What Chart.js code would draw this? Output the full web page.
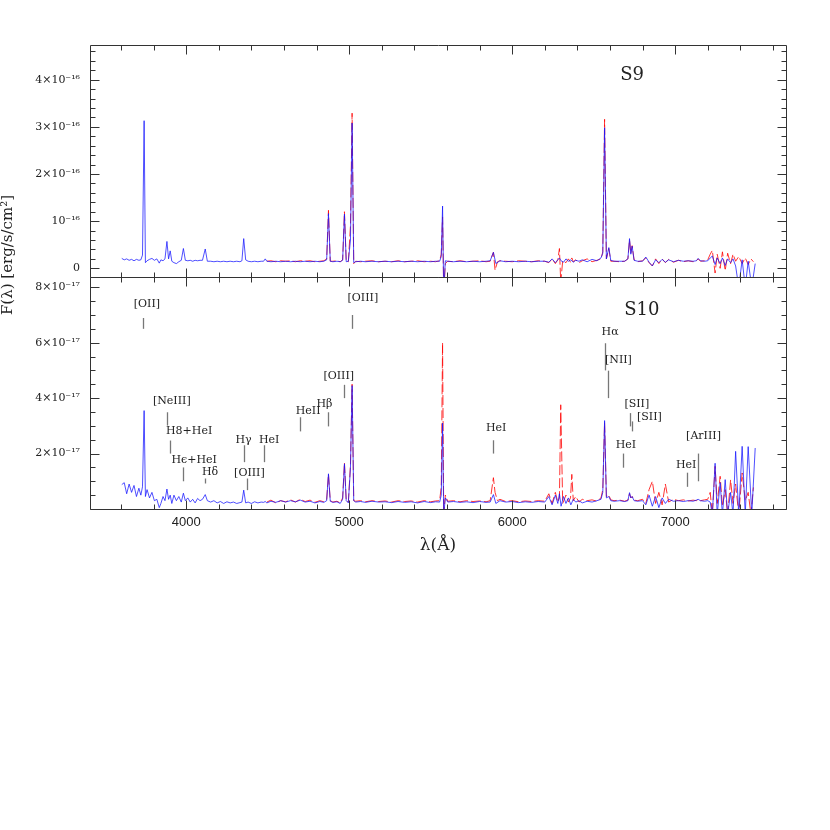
<!DOCTYPE html>
<html>
<head>
<meta charset="utf-8">
<script src="https://cdn.jsdelivr.net/npm/chart.js@4"></script>
<style>
  html, body { margin: 0; padding: 0; background: #fff; }
</style>
</head>
<body>
<canvas id="spec" width="830" height="830"></canvas>
<script>
// wavelength grid (Angstrom) of the blue spectra
const blueWave = [
  3605, 3620, 3635, 3650, 3665, 3680, 3695, 3710, 3722, 3732,
  3742, 3750, 3760, 3775, 3790, 3805, 3820, 3835, 3845, 3858,
  3870, 3882, 3892, 3902, 3912, 3925, 3940, 3955, 3970, 3983,
  3995, 4010, 4025, 4040, 4055, 4070, 4085, 4100, 4117, 4130,
  4150, 4170, 4190, 4210, 4230, 4250, 4270, 4290, 4310, 4330,
  4342, 4353, 4365, 4380, 4400, 4420, 4440, 4460, 4475, 4485,
  4495, 4520, 4550, 4580, 4610, 4640, 4670, 4700, 4730, 4760,
  4790, 4820, 4845, 4862, 4873, 4884, 4900, 4925, 4945, 4960,
  4971, 4982, 4995, 5008, 5018, 5028, 5040, 5070, 5100, 5140,
  5180, 5220, 5260, 5300, 5340, 5380, 5420, 5460, 5500, 5530,
  5555, 5565, 5573, 5580, 5590, 5605, 5640, 5680, 5720, 5760,
  5800, 5840, 5865, 5885, 5900, 5925, 5960, 6000, 6040, 6080,
  6120, 6160, 6200, 6225, 6245, 6265, 6280, 6290, 6300, 6315,
  6330, 6345, 6360, 6375, 6390, 6410, 6430, 6460, 6490, 6520,
  6545, 6556, 6567, 6578, 6593, 6605, 6625, 6660, 6690, 6710,
  6720, 6728, 6736, 6748, 6770, 6800, 6820, 6840, 6860, 6880,
  6900, 6920, 6940, 6960, 6990, 7020, 7050, 7080, 7110, 7130,
  7141, 7155, 7180, 7200, 7215, 7228, 7245, 7258, 7276, 7290,
  7307, 7322, 7340, 7355, 7371, 7390, 7411, 7430, 7448, 7470,
  7491
];

// S9, blue, units of 1e-16 erg/s/cm2
const s9Blue = [
  0.21, 0.18, 0.20, 0.17, 0.19, 0.16, 0.19, 0.17, 0.18, 0.28,
  3.13, 0.12, 0.16, 0.19, 0.21, 0.17, 0.20, 0.11, 0.18, 0.16,
  0.20, 0.57, 0.20, 0.37, 0.15, 0.12, 0.10, 0.14, 0.17, 0.42,
  0.17, 0.16, 0.17, 0.15, 0.17, 0.16, 0.17, 0.17, 0.41, 0.15,
  0.15, 0.14, 0.15, 0.14, 0.15, 0.14, 0.15, 0.14, 0.15, 0.14,
  0.16, 0.63, 0.18, 0.15, 0.14, 0.15, 0.14, 0.15, 0.15, 0.20,
  0.15, 0.14, 0.15, 0.14, 0.15, 0.14, 0.15, 0.14, 0.15, 0.14,
  0.15, 0.14, 0.15, 0.18, 1.16, 0.15, 0.14, 0.15, 0.14, 0.17,
  1.15, 0.14, 0.15, 0.60, 3.08, 0.12, 0.14, 0.15, 0.14, 0.15,
  0.14, 0.15, 0.14, 0.15, 0.14, 0.15, 0.14, 0.15, 0.14, 0.15,
  0.15, 0.25, 1.32, -0.5, 0.16, 0.15, 0.14, 0.15, 0.14, 0.15,
  0.14, 0.15, 0.16, 0.34, 0.10, 0.16, 0.14, 0.15, 0.14, 0.15,
  0.14, 0.15, 0.15, 0.13, 0.20, 0.12, 0.18, 0.22, 0.16, 0.13,
  0.20, 0.15, 0.18, 0.13, 0.17, 0.15, 0.18, 0.14, 0.19, 0.16,
  0.22, 0.32, 2.98, 0.20, 0.44, 0.17, 0.15, 0.15, 0.15, 0.20,
  0.63, 0.30, 0.47, 0.17, 0.15, 0.15, 0.24, 0.13, 0.05, 0.18,
  0.12, 0.19, 0.13, 0.18, 0.14, 0.17, 0.15, 0.16, 0.15, 0.16,
  0.21, 0.16, 0.15, 0.16, 0.22, 0.26, 0.08, 0.22, 0.10, 0.22,
  0.06, 0.20, 0.12, 0.20, 0.05, -0.4, 0.18, -0.4, 0.15, -0.4,
  0.10
];

// S10, blue, units of 1e-17 erg/s/cm2
const s10Blue = [
  0.88, 0.95, 0.55, 0.90, 0.60, 0.85, 0.45, 0.75, 0.50, 0.80,
  3.55, 0.45, 0.70, 0.40, 0.60, 0.30, 0.35, 0.05, 0.20, 0.45,
  0.30, 0.72, 0.35, 0.50, 0.20, 0.50, 0.30, 0.45, 0.25, 0.57,
  0.30, 0.40, 0.25, 0.35, 0.22, 0.38, 0.30, 0.35, 0.52, 0.30,
  0.25, 0.30, 0.22, 0.27, 0.20, 0.26, 0.22, 0.25, 0.20, 0.23,
  0.25, 0.68, 0.22, 0.25, 0.20, 0.26, 0.22, 0.25, 0.24, 0.27,
  0.22, 0.28, 0.24, 0.30, 0.25, 0.30, 0.26, 0.32, 0.25, 0.28,
  0.22, 0.27, 0.24, 0.30, 1.27, 0.28, 0.24, 0.26, 0.20, 0.35,
  1.63, 0.30, 0.22, 1.50, 4.45, 0.30, 0.25, 0.27, 0.24, 0.28,
  0.25, 0.26, 0.23, 0.27, 0.24, 0.26, 0.22, 0.27, 0.23, 0.26,
  0.25, 0.50, 3.10, -0.2, 0.40, 0.25, 0.27, 0.24, 0.26, 0.23,
  0.27, 0.24, 0.25, 0.52, 0.20, 0.30, 0.25, 0.27, 0.23, 0.26,
  0.24, 0.27, 0.25, 0.45, 0.15, 0.50, 0.20, 0.55, 0.10, 0.45,
  0.20, 0.40, 0.15, 0.35, 0.25, 0.30, 0.22, 0.28, 0.25, 0.30,
  0.35, 0.60, 3.19, 0.40, 0.45, 0.30, 0.28, 0.30, 0.27, 0.30,
  0.59, 0.40, 0.45, 0.30, 0.28, 0.30, 0.15, 0.50, 0.10, 0.45,
  0.05, 0.40, 0.20, 0.35, 0.28, 0.30, 0.27, 0.30, 0.28, 0.32,
  0.35, 0.30, 0.28, 0.30, 0.25, -0.2, 1.65, -0.2, 0.95, -0.2,
  1.06, -0.2, 0.60, -0.2, 2.08, -0.2, 2.26, -0.2, 2.25, -0.2,
  2.20
];

// wavelength grid of the red spectra
const redWave = [
  4495, 4520, 4550, 4580, 4610, 4640, 4670, 4700, 4730, 4760,
  4790, 4820, 4845, 4862, 4873, 4884, 4900, 4925, 4945, 4960,
  4971, 4982, 4995, 5008, 5018, 5028, 5040, 5070, 5100, 5140,
  5180, 5220, 5260, 5300, 5340, 5380, 5420, 5460, 5500, 5530,
  5555, 5565, 5573, 5580, 5590, 5605, 5640, 5680, 5720, 5760,
  5800, 5840, 5865, 5885, 5895, 5910, 5925, 5960, 6000, 6040,
  6080, 6120, 6160, 6200, 6225, 6245, 6265, 6280, 6290, 6298,
  6310, 6330, 6345, 6358, 6366, 6375, 6390, 6410, 6430, 6460,
  6490, 6520, 6545, 6556, 6567, 6578, 6593, 6605, 6625, 6660,
  6690, 6710, 6720, 6728, 6736, 6748, 6770, 6800, 6820, 6840,
  6860, 6880, 6900, 6920, 6940, 6960, 6990, 7020, 7050, 7080,
  7110, 7130, 7141, 7155, 7180, 7200, 7215, 7228, 7245, 7258,
  7276, 7290, 7307, 7322, 7340, 7355, 7371, 7390, 7411, 7430,
  7448, 7465, 7480
];

const s9Red = [
  0.15, 0.16, 0.14, 0.16, 0.15, 0.16, 0.14, 0.16, 0.15, 0.16,
  0.14, 0.15, 0.16, 0.20, 1.23, 0.15, 0.15, 0.16, 0.14, 0.18,
  1.20, 0.15, 0.14, 0.90, 3.29, 0.10, 0.15, 0.14, 0.15, 0.16,
  0.14, 0.15, 0.14, 0.16, 0.14, 0.15, 0.16, 0.14, 0.15, 0.14,
  0.16, 0.30, 1.09, -0.5, 0.10, 0.15, 0.14, 0.16, 0.14, 0.15,
  0.16, 0.14, 0.15, 0.34, -0.04, 0.14, 0.16, 0.15, 0.14, 0.16,
  0.15, 0.14, 0.16, 0.15, 0.12, 0.20, 0.10, 0.18, 0.42, -0.3,
  0.16, 0.12, 0.20, 0.13, 0.22, 0.14, 0.18, 0.12, 0.16, 0.20,
  0.14, 0.17, 0.20, 0.35, 3.16, 0.20, 0.42, 0.15, 0.15, 0.14,
  0.15, 0.20, 0.60, 0.32, 0.48, 0.18, 0.14, 0.16, 0.22, 0.12,
  0.05, 0.20, 0.10, 0.20, 0.12, 0.19, 0.13, 0.17, 0.14, 0.16,
  0.14, 0.16, 0.20, 0.15, 0.16, 0.18, 0.30, 0.38, -0.10, 0.30,
  0.00, 0.35, -0.05, 0.32, 0.10, 0.30, 0.15, 0.25, 0.10, 0.22,
  0.08, 0.20, 0.14
];

const s10Red = [
  0.25, 0.32, 0.22, 0.30, 0.26, 0.33, 0.25, 0.35, 0.27, 0.32,
  0.24, 0.30, 0.26, 0.35, 1.25, 0.30, 0.25, 0.28, 0.22, 0.40,
  1.67, 0.30, 0.25, 1.60, 4.50, 0.30, 0.28, 0.30, 0.26, 0.30,
  0.27, 0.29, 0.25, 0.30, 0.27, 0.29, 0.25, 0.30, 0.26, 0.29,
  0.30, 0.80, 6.00, -0.2, 0.50, 0.28, 0.30, 0.26, 0.30, 0.27,
  0.29, 0.26, 0.30, 1.13, 0.60, 0.30, 0.35, 0.27, 0.30, 0.26,
  0.29, 0.27, 0.30, 0.28, 0.55, 0.20, 0.60, 0.25, 0.40, 3.76,
  0.20, 0.50, 0.25, 0.40, 1.25, 0.30, 0.45, 0.25, 0.35, 0.30,
  0.33, 0.28, 0.40, 0.70, 3.11, 0.45, 0.50, 0.33, 0.30, 0.32,
  0.28, 0.32, 0.55, 0.40, 0.45, 0.32, 0.30, 0.35, 0.20, 0.70,
  1.00, 0.20, 0.60, 0.15, 0.90, 0.25, 0.35, 0.30, 0.33, 0.29,
  0.32, 0.30, 0.34, 0.30, 0.33, 0.35, 0.60, -0.2, 1.54, 0.20,
  1.18, 0.10, 0.70, -0.2, 1.05, 0.20, 0.90, -0.2, 1.30, 0.30,
  0.60, -0.2, 0.78
];

// line identifications in the S10 panel: [text, textWave, textFlux, markWave, markFrom, markTo]
const lineIds = [
  ['[OII]', 3759, 7.40, 3738, 6.89, 6.50],
  ['[OIII]', 5084, 7.61, 5016, 7.00, 6.50],
  ['[NeIII]', 3912, 3.88, 3883, 3.49, 3.01],
  ['H8+HeI', 4018, 2.80, 3902, 2.47, 2.00],
  ['H\u03f5+HeI', 4049, 1.78, 3983, 1.50, 1.00],
  ['H\u03b4', 4147, 1.32, 4117, 1.10, 0.92],
  ['H\u03b3', 4352, 2.48, 4352, 2.30, 1.69],
  ['HeI', 4509, 2.48, 4480, 2.30, 1.69],
  ['[OIII]', 4388, 1.31, 4374, 1.10, 0.68],
  ['HeII', 4748, 3.52, 4698, 3.31, 2.80],
  ['H\u03b2', 4848, 3.80, 4873, 3.49, 2.98],
  ['[OIII]', 4936, 4.78, 4969, 4.48, 4.00],
  ['HeI', 5902, 2.90, 5885, 2.48, 2.00],
  ['H\u03b1', 6601, 6.38, 6569, 5.98, 5.00],
  ['[NII]', 6652, 5.38, 6589, 4.99, 4.00],
  ['[SII]', 6765, 3.80, 6722, 3.46, 2.98],
  ['[SII]', 6842, 3.32, 6738, 3.16, 2.80],
  ['HeI', 6698, 2.30, 6683, 2.00, 1.49],
  ['[ArIII]', 7174, 2.62, 7139, 2.00, 1.00],
  ['HeI', 7068, 1.60, 7072, 1.31, 0.80]
];

const pts = (w, f) => w.map((x, i) => ({x: x, y: f[i]}));
const isStep = (v, step) => Math.abs(v / step - Math.round(v / step)) < 1e-6;

const panels = [
  {id: 'yTop', minor: 0.2, major: 1, name: 'S9', nameWave: 6736, nameFlux: 4.09},
  {id: 'yBot', minor: 0.5, major: 2, name: 'S10', nameWave: 6796, nameFlux: 7.18}
];

const framePlugin = {
  id: 'frames',
  afterDatasetsDraw(chart) {
    const ctx = chart.ctx;
    const xs = chart.scales.x;
    const L = Math.round(xs.left) + 0.5, R = Math.round(xs.right) + 0.5;
    ctx.save();
    ctx.strokeStyle = '#333';
    ctx.lineWidth = 1;
    panels.forEach(p => {
      const ys = chart.scales[p.id];
      const T = Math.round(ys.top) + 0.5, B = Math.round(ys.bottom) + 0.5;
      ctx.beginPath();
      ctx.rect(L, T, R - L, B - T);
      xs.ticks.forEach(t => {
        if (!isStep(t.value, 200)) return;
        const px = Math.round(xs.getPixelForValue(t.value)) + 0.5;
        const len = isStep(t.value, 1000) ? 9 : 5;
        ctx.moveTo(px, B); ctx.lineTo(px, B - len);
        ctx.moveTo(px, T); ctx.lineTo(px, T + len);
      });
      ys.ticks.forEach(t => {
        if (!isStep(t.value, p.minor)) return;
        const py = Math.round(ys.getPixelForValue(t.value)) + 0.5;
        const len = isStep(t.value, p.major) ? 9 : 5;
        ctx.moveTo(L, py); ctx.lineTo(L + len, py);
        ctx.moveTo(R, py); ctx.lineTo(R - len, py);
      });
      ctx.stroke();

      // panel name
      ctx.fillStyle = '#222';
      ctx.font = '18px "DejaVu Serif"';
      ctx.textAlign = 'center';
      ctx.textBaseline = 'middle';
      ctx.fillText(p.name, xs.getPixelForValue(p.nameWave), ys.getPixelForValue(p.nameFlux));
    });

    // line identifications
    const yb = chart.scales.yBot;
    ctx.font = '11px "DejaVu Serif"';
    ctx.strokeStyle = '#777';
    ctx.lineWidth = 1.3;
    lineIds.forEach(l => {
      ctx.fillText(l[0], xs.getPixelForValue(l[1]), yb.getPixelForValue(l[2]));
      const mx = Math.round(xs.getPixelForValue(l[3])) + 0.5;
      ctx.beginPath();
      ctx.moveTo(mx, yb.getPixelForValue(l[4]));
      ctx.lineTo(mx, yb.getPixelForValue(l[5]));
      ctx.stroke();
    });

    // y axis title
    ctx.translate(12, 255);
    ctx.rotate(-Math.PI / 2);
    ctx.font = '15px "DejaVu Serif"';
    ctx.textBaseline = 'alphabetic';
    ctx.fillText('F(\u03bb) [erg/s/cm\u00b2]', 0, 0);
    ctx.restore();
  }
};

// tick label: only every `every` units, written as n×10^-exp
const yLabel = (exp, every, showZero) => v => {
  const r = Math.round(v);
  if (Math.abs(v - r) > 1e-6 || r % every !== 0 || r < 0) return '';
  if (r === 0) return showZero ? '0' : '';
  return (r === 1 ? '' : r + '\u00d7') + '10\u207b\u00b9' + exp;
};

const tickFont = {family: 'DejaVu Serif', size: 11};
const blue = 'rgba(20, 20, 255, 0.75)';
const red = 'rgba(255, 0, 0, 0.8)';

new Chart('spec', {
  type: 'line',
  data: {
    datasets: [
      {label: 'S9 blue', data: pts(blueWave, s9Blue), yAxisID: 'yTop', borderColor: blue, borderWidth: 1, pointRadius: 0},
      {label: 'S10 blue', data: pts(blueWave, s10Blue), yAxisID: 'yBot', borderColor: blue, borderWidth: 1, pointRadius: 0},
      {label: 'S9 red', data: pts(redWave, s9Red), yAxisID: 'yTop', borderColor: red, borderWidth: 1, borderDash: [10, 3], pointRadius: 0},
      {label: 'S10 red', data: pts(redWave, s10Red), yAxisID: 'yBot', borderColor: red, borderWidth: 1, borderDash: [10, 3], pointRadius: 0}
    ]
  },
  options: {
    responsive: false,
    animation: false,
    layout: {padding: {top: 45, right: 44, bottom: 261, left: 0}},
    plugins: {legend: {display: false}, tooltip: {enabled: false}},
    scales: {
      x: {
        type: 'linear', position: 'bottom', min: 3410, max: 7680,
        grid: {display: false, drawTicks: false},
        border: {display: false},
        ticks: {
          stepSize: 200, autoSkip: false, includeBounds: false, maxRotation: 0, padding: 6,
          font: {family: 'Liberation Sans', size: 13}, color: '#222',
          callback: v => isStep(v, 1000) ? String(v) : ''
        },
        title: {display: true, text: '\u03bb(\u00c5)', color: '#222', font: {family: 'DejaVu Serif', size: 17}, padding: {top: 4, bottom: 13}},
        afterFit(s) { s.height = 60; }
      },
      yBot: {
        type: 'linear', position: 'left', stack: 'panels', stackWeight: 1,
        min: 0, max: 8.37,
        grid: {display: false, drawTicks: false},
        border: {display: false},
        ticks: {stepSize: 0.5, autoSkip: false, includeBounds: false, padding: 10, font: tickFont, color: '#222', callback: yLabel('\u2077', 2, false)},
        afterFit(s) { s.width = 90; }
      },
      yTop: {
        type: 'linear', position: 'left', stack: 'panels', stackWeight: 1,
        min: -0.184, max: 4.735,
        grid: {display: false, drawTicks: false},
        border: {display: false},
        ticks: {stepSize: 0.2, autoSkip: false, includeBounds: false, padding: 10, font: tickFont, color: '#222', callback: yLabel('\u2076', 1, true)},
        afterFit(s) { s.width = 90; }
      }
    }
  },
  plugins: [framePlugin]
});
</script>
</body>
</html>
